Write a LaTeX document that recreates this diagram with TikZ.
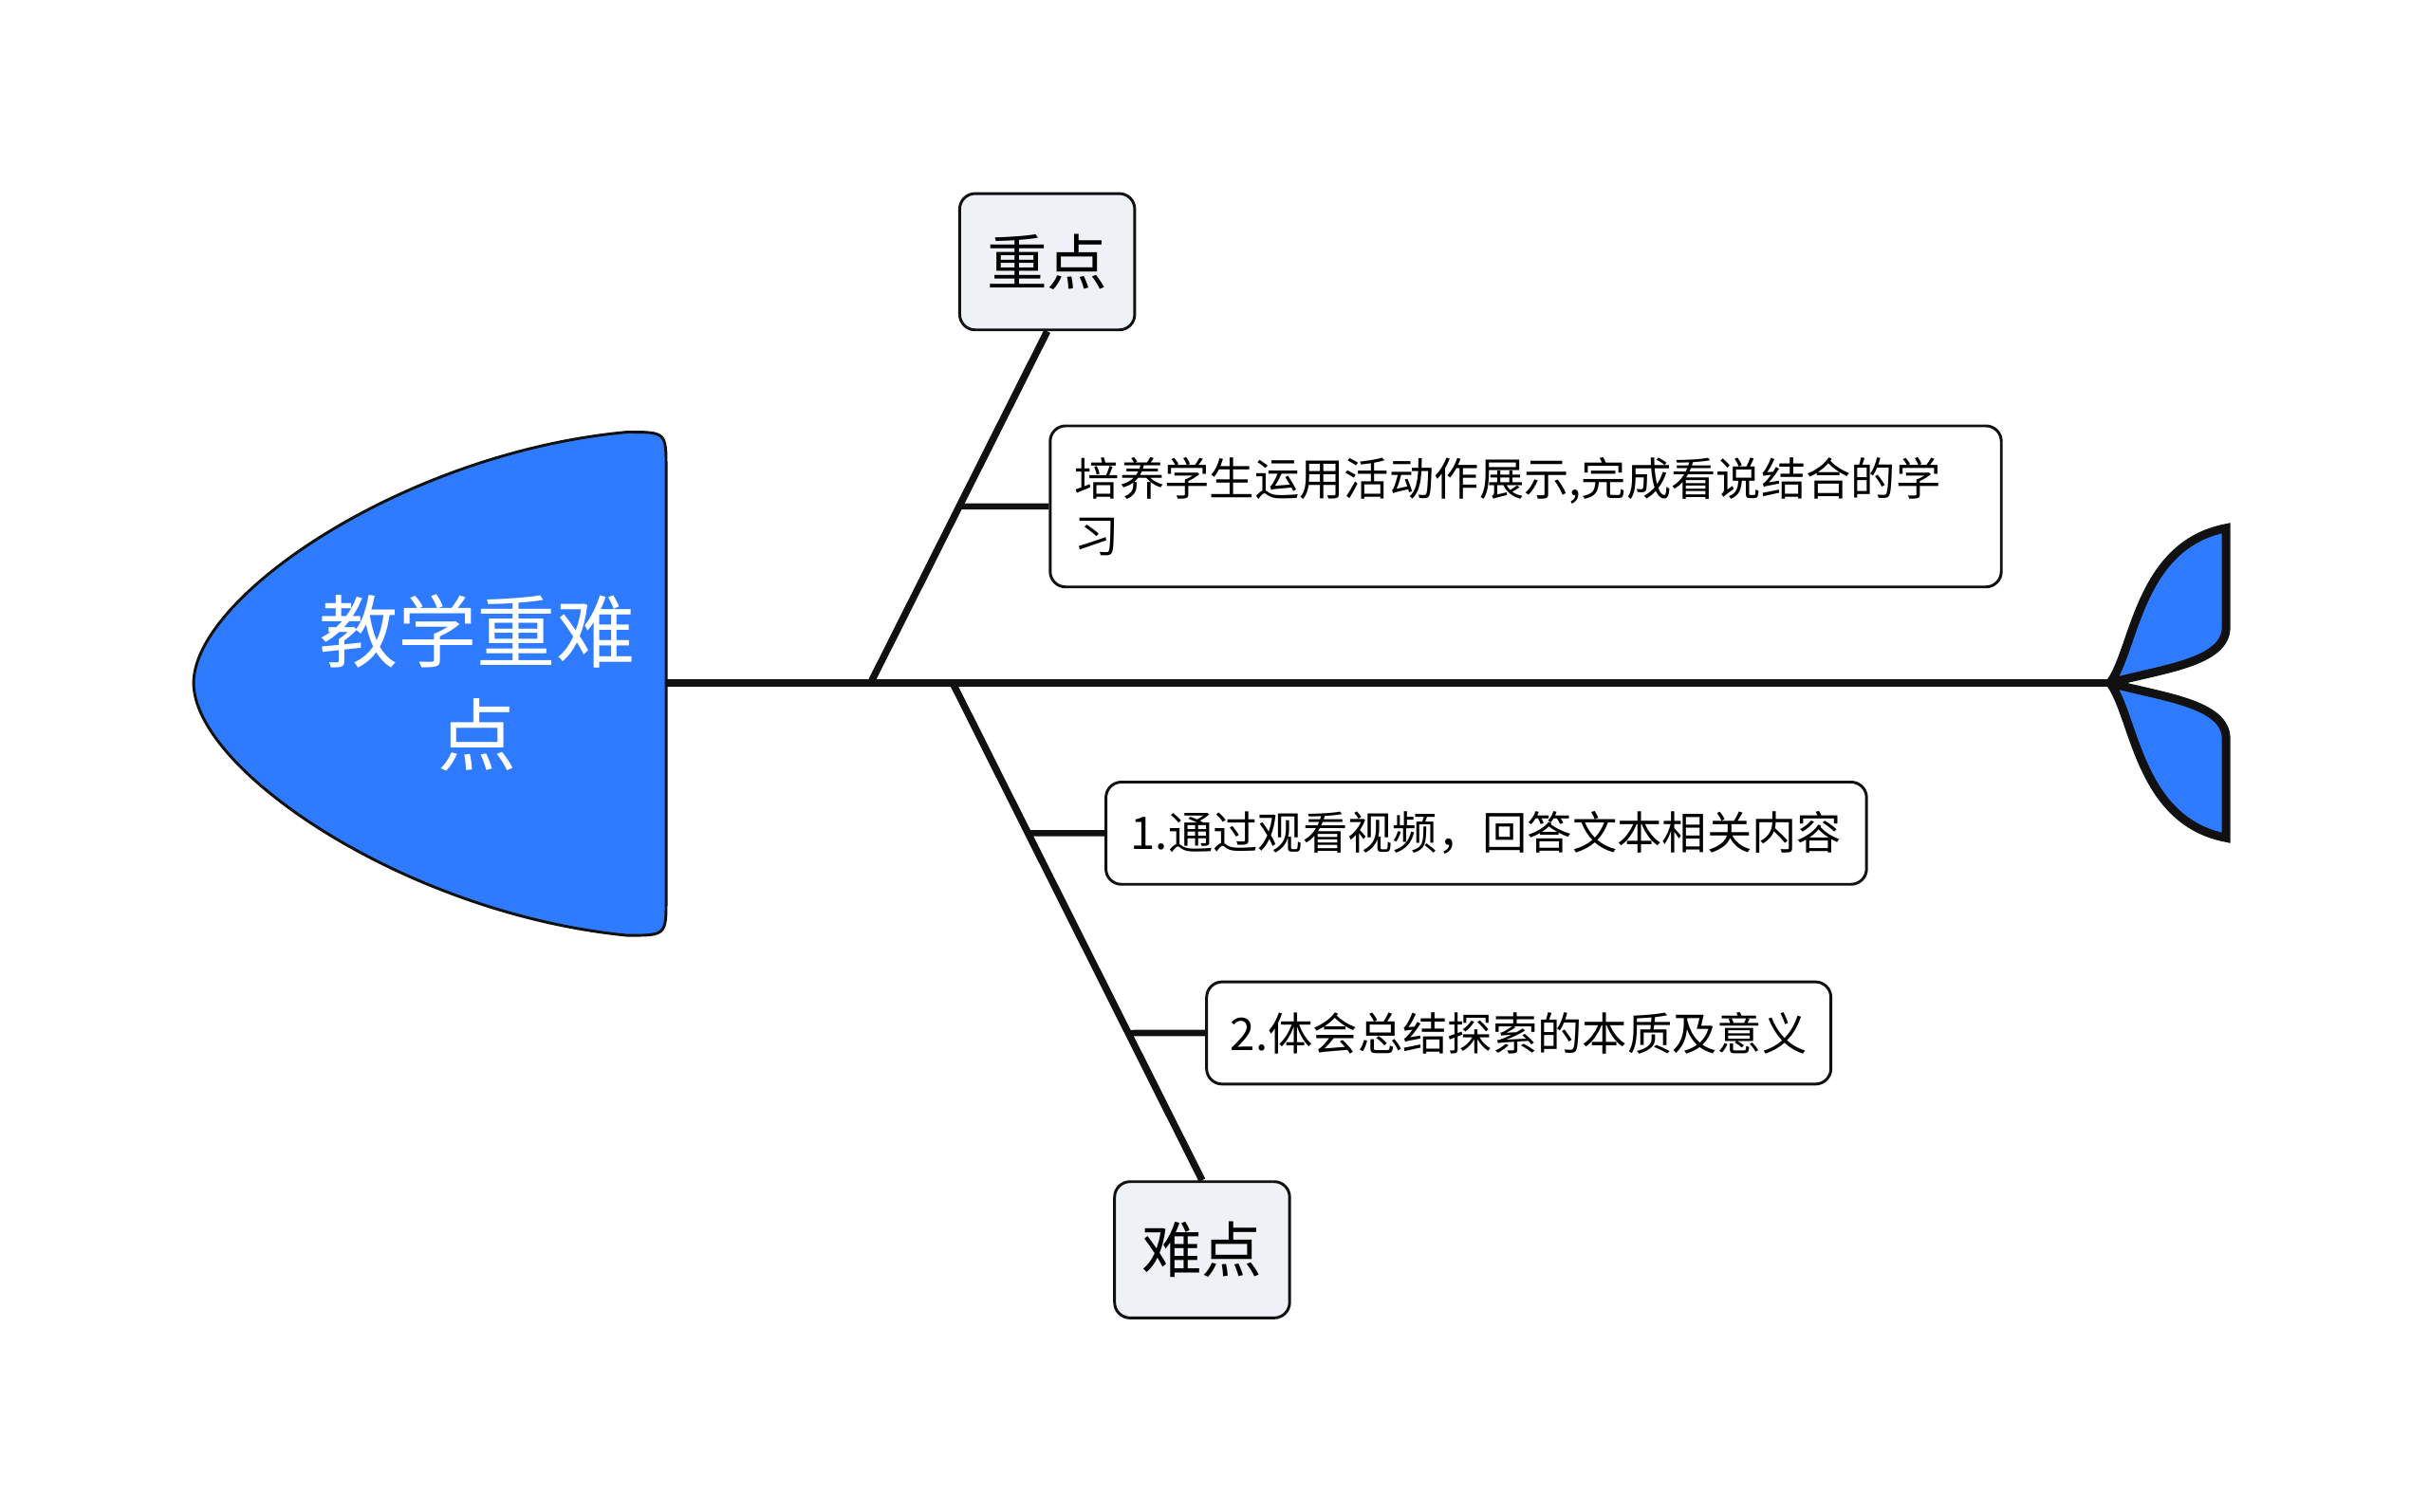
\documentclass[tikz,border=0pt]{standalone}
\usepackage{fontspec}
\setmainfont{Noto Sans CJK SC}
\definecolor{fishblue}{RGB}{47,123,255}
\definecolor{boxgray}{RGB}{238,241,245}
\definecolor{inkline}{RGB}{17,17,17}
\begin{document}
\begin{tikzpicture}[x=1pt,y=-1pt,
  bone/.style={draw=inkline,line width=4.5pt},
  twig/.style={draw=inkline,line width=4pt},
  fin/.style={draw=inkline,fill=fishblue,line width=5.5pt},
  topic/.style={draw=inkline,line width=1.8pt,fill=boxgray,rounded corners=10pt,minimum width=113pt,minimum height=88pt,inner sep=0pt,font=\fontsize{39}{46}\selectfont},
  leaf/.style={draw=inkline,line width=1.8pt,fill=white,rounded corners=10pt,minimum height=66pt,inner sep=0pt,font=\fontsize{29}{37}\selectfont}]
   \useasboundingbox (0,0) rectangle (1568,976);
   % head
   \draw[fill=fishblue,draw=inkline,line width=1.8pt] (430,303) .. controls (430,279) .. (405,279) .. controls (262,292) and (125,385) .. (125,441) .. controls (125,497) and (262,590) .. (405,604) .. controls (430,604) .. (430,580) -- cycle;
   \node[text=white,align=center,font=\fontsize{51}{67}\selectfont] (head) at (308,441) {教学重难\\点};
   % spine and tail
   \coordinate (neck) at (430,441);
   \coordinate (tail) at (1362,441);
   \draw[draw=inkline,line width=5pt] (neck) -- (tail);
   \draw[fin] (tail) .. controls (1378,420) and (1380,352) .. (1437,341) -- (1437,405) .. controls (1437,428) and (1395,432) .. (tail);
   \draw[fin] (tail) .. controls (1378,462) and (1380,530) .. (1437,541) -- (1437,477) .. controls (1437,454) and (1395,450) .. (tail);
   % bones
   \node[topic] (zd) at (676,169) {重点};
   \node[topic] (nd) at (776,807) {难点};
   \coordinate (ub) at (562,441);
   \coordinate (lb) at (615,441);
   \draw[bone] (ub) -- (zd.south);
   \draw[bone] (lb) -- (nd.north);
   % leaves
   \node[leaf,anchor=west,text width=582pt,align=left,minimum height=104pt,inner xsep=16pt] (p1) at (677,327) {培养学生运用活动作展示,完成看说结合的学\\习};
   \node[leaf,anchor=west,minimum width=491pt] (d1) at (713,538) {1.通过观看视频，回答文本相关内容};
   \node[leaf,anchor=west,minimum width=403pt] (d2) at (778,667) {2.体会总结探索的本质及意义};
   \draw[twig] (intersection of ub--zd.south and p1.west--p1.east) -- (p1.west);
   \draw[twig] (intersection of lb--nd.north and d1.west--d1.east) -- (d1.west);
   \draw[twig] (intersection of lb--nd.north and d2.west--d2.east) -- (d2.west);
\end{tikzpicture}
\end{document}
